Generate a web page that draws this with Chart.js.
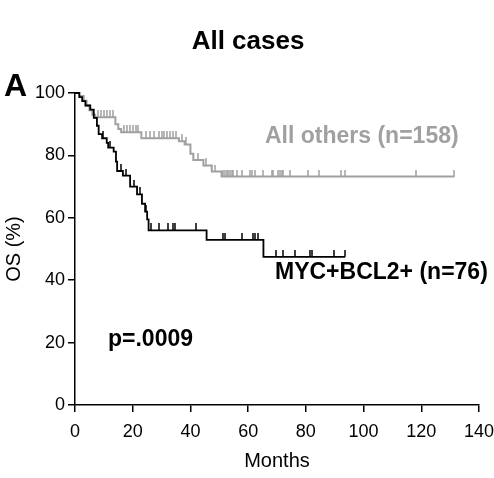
<!DOCTYPE html>
<html>
<head>
<meta charset="utf-8">
<script src="https://cdn.jsdelivr.net/npm/chart.js@4.4.0/dist/chart.umd.min.js"></script>
<style>
  html, body { margin: 0; padding: 0; background: #fff; }
  #wrap { width: 494px; height: 478px; }
</style>
</head>
<body>
<div id="wrap"><canvas id="km"></canvas></div>
<script>
// Kaplan-Meier steps: time (months) and OS (%) after each drop
const othersTime = [0, 1.5, 3, 4, 5, 6, 7, 14, 15, 16, 23, 36, 38, 40, 41, 44.5, 47.4, 50.8, 131.5];
const othersOS   = [100, 99, 97.5, 96, 94.5, 93, 92.2, 90, 88.5, 87.4, 85.5, 84.5, 83.5, 80.5, 78.5, 76.8, 74.8, 73.2, 73.2];
const othersCensor = [8, 9, 10, 11, 12, 13, 17, 18, 19, 20, 21, 22, 24.5, 26, 27.5, 29, 30, 31, 32, 33, 34, 35,
  37, 38.5, 42.5, 45.5, 48.5, 51.4, 52, 52.6, 53.1, 53.7, 54.3, 54.9, 56.1, 57.8, 60.7, 61.2, 62.4, 65.3,
  68.2, 68.7, 70.5, 71.1, 71.6, 72.2, 74.5, 80.8, 84.6, 92.2, 93.6, 118.2, 131.5];

const mycTime = [0, 1.5, 2.5, 3.6, 5.3, 6.5, 7.6, 8.2, 9.4, 11, 11.5, 13.4, 14.2, 14.6, 16.6, 19.1, 21.5, 23.2, 24.3, 25, 25.5, 45.6, 65.3, 93.6];
const mycOS   = [100, 98.7, 97.4, 96, 94.7, 92, 89.5, 86.8, 85.5, 84, 82.5, 81.2, 78, 75, 73.5, 70, 67.5, 64.5, 62, 59.5, 56, 52.9, 47.5, 47.5];
const mycCensor = [9.8, 12, 16, 17.8, 20.3, 22.5, 24.6, 26.2, 29.2, 32.3, 34.1, 34.5, 41.9,
  51.4, 51.9, 58, 61.8, 62.4, 63.3, 69.6, 72.2, 76.3, 81.5, 82, 89.8, 93.6];

const monthTicks = [0, 20, 40, 60, 80, 100, 120, 140];
const osTicks = [0, 20, 40, 60, 80, 100];

const FONT = "'Liberation Sans', Arial, sans-serif";
const GREY = "rgb(160,160,160)";

function stepPoints(times, vals) {
  return times.map((t, i) => ({ x: t, y: vals[i] }));
}
function censorPoints(censor, times, vals) {
  return censor.map(t => {
    let k = 0;
    for (let i = 0; i < times.length; i++) if (times[i] <= t) k = i;
    return { x: t, y: vals[k] };
  });
}
function tickMark(color) {
  const c = document.createElement("canvas");
  c.width = 2; c.height = 14;
  const g = c.getContext("2d");
  g.fillStyle = color;
  g.fillRect(0.25, 0, 1.5, 7);
  return c;
}

const textPlugin = {
  id: "texts",
  afterDraw(chart) {
    const ctx = chart.ctx;
    ctx.save();
    ctx.textBaseline = "middle";
    ctx.fillStyle = "#000";
    ctx.textAlign = "center";
    ctx.font = "bold 26px " + FONT;
    ctx.fillText("All cases", 248, 42);
    ctx.textAlign = "left";
    ctx.font = "bold 32px " + FONT;
    ctx.fillText("A", 4, 87);
    ctx.font = "bold 23px " + FONT;
    ctx.fillStyle = GREY;
    ctx.fillText("All others (n=158)", 265, 137);
    ctx.fillStyle = "#000";
    ctx.fillText("MYC+BCL2+ (n=76)", 275, 273);
    ctx.fillText("p=.0009", 108, 340);
    ctx.restore();
  }
};

new Chart(document.getElementById("km"), {
  type: "line",
  data: {
    datasets: [
      {
        label: "MYC+BCL2+",
        data: stepPoints(mycTime, mycOS),
        stepped: true,
        borderColor: "#000",
        borderWidth: 1.8,
        pointRadius: 0,
        fill: false,
        clip: false,
        order: 0
      },
      {
        label: "All others",
        data: stepPoints(othersTime, othersOS),
        stepped: true,
        borderColor: GREY,
        borderWidth: 2,
        pointRadius: 0,
        fill: false,
        clip: false,
        order: 2
      },
      {
        type: "scatter",
        data: censorPoints(mycCensor, mycTime, mycOS),
        pointStyle: tickMark("#000"),
        showLine: false,
        clip: false,
        order: 0
      },
      {
        type: "scatter",
        data: censorPoints(othersCensor, othersTime, othersOS),
        pointStyle: tickMark(GREY),
        showLine: false,
        clip: false,
        order: 2
      }
    ]
  },
  options: {
    responsive: true,
    maintainAspectRatio: false,
    animation: false,
    layout: { padding: { left: 0, right: 15, top: 93, bottom: 0 } },
    plugins: { legend: { display: false }, tooltip: { enabled: false } },
    scales: {
      x: {
        type: "linear",
        min: 0,
        max: 140,
        afterBuildTicks: s => { s.ticks = monthTicks.map(v => ({ value: v })); },
        afterFit: s => { s.height = 73; s.paddingLeft = 0; s.paddingRight = 0; },
        grid: { drawOnChartArea: false, color: "#000", tickLength: 7, lineWidth: 1.5 },
        border: { color: "#000", width: 1.5 },
        ticks: { color: "#000", font: { family: FONT, size: 18 }, padding: 9, maxRotation: 0 },
        title: { display: true, text: "Months", color: "#000", font: { family: FONT, size: 20 }, padding: { top: 0, bottom: 5 } }
      },
      y: {
        min: 0,
        max: 100,
        afterBuildTicks: s => { s.ticks = osTicks.map(v => ({ value: v })); },
        afterFit: s => { s.width = 75; },
        grid: { drawOnChartArea: false, color: "#000", tickLength: 7, lineWidth: 1.5 },
        border: { color: "#000", width: 1.5 },
        ticks: { color: "#000", font: { family: FONT, size: 18 }, padding: 3 },
        title: { display: true, text: "OS (%)", color: "#000", font: { family: FONT, size: 20 }, padding: { top: 2, bottom: 0 } }
      }
    }
  },
  plugins: [textPlugin]
});
</script>
</body>
</html>
